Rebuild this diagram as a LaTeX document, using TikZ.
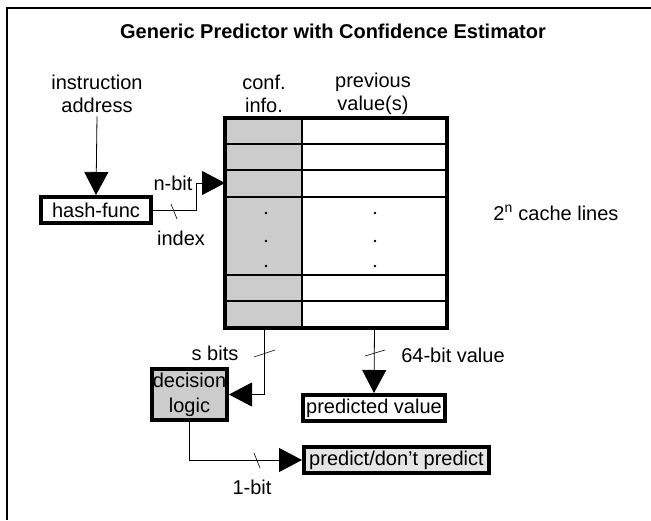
\documentclass[tikz,border=0pt]{standalone}
\usepackage{fontspec}
\setmainfont{Liberation Sans}
\usetikzlibrary{arrows.meta}
\definecolor{confgray}{gray}{0.8}
\definecolor{lightgray}{gray}{0.9}

\begin{document}
\begin{tikzpicture}[x=1pt, y=-1pt,
  font=\fontsize{20}{23}\selectfont,
  fatbox/.style={draw, line width=4pt, inner sep=0pt},
  wire/.style={line width=0.8pt, -{Triangle[length=23pt,width=24pt]}},
  slash/.style={line width=0.6pt}]
\useasboundingbox (0,0) rectangle (651,520);
\draw[line width=1.2pt] (651,8) -- (7,8) -- (7,520);
\node[font=\fontsize{20}{23}\selectfont\bfseries] (title) at (333,31) {Generic Predictor with Confidence Estimator};
% labels above
\node[align=center] (instr) at (97,94) {instruction\\address};
\node[align=center] (conf) at (264,94) {conf.\\info.};
\node[align=center] (prev) at (373,94) {previous\\value(s)};
% cache table
\fill[confgray] (225,118) rectangle (302,328);
\foreach \y in {144,170,197,275,301}
  \draw[line width=2.5pt] (225,\y) -- (447,\y);
\draw[line width=2pt] (302,118) -- (302,328);
\draw[line width=3.5pt] (225,118) rectangle (447,328);
\foreach \y in {213,241,266} {
  \fill (266,\y) circle (1.3);
  \fill (375,\y) circle (1.3);
}
\coordinate (row3) at (225,183);
\coordinate (confbot) at (264,328);
\coordinate (valbot) at (374.5,328);
\node (lines) at (556,213) {2\textsuperscript{n} cache lines};
% boxes
\node[fatbox, fill=white, minimum width=110pt, minimum height=26pt] (hash) at (96,210) {hash-func};
\node[fatbox, fill=confgray, minimum width=75pt, minimum height=51pt, align=center,
  font=\fontsize{20}{25}\selectfont] (dec) at (189.5,394.5) {decision\\logic};
\node[fatbox, fill=white, minimum width=142pt, minimum height=26pt] (pv) at (374,408) {predicted value};
\node[fatbox, fill=lightgray, minimum width=185pt, minimum height=26pt] (pdp) at (396.5,460) {predict/don't predict};
% connectors
\draw[wire] (instr.south) -- (hash.north);
\draw[wire] (hash.east) -- ++(43,0) |- (row3);
\draw[wire] (confbot) |- (dec.east);
\draw[wire] (valbot) -- (pv.north);
\draw[wire] (dec.south) |- (pdp.west);
% bus ticks
\draw[slash] (171,204) -- (177,219);
\draw[slash] (254,357) -- (275,350);
\draw[slash] (365,356) -- (385,350);
\draw[slash] (254,453) -- (260,468);
\node (nbit) at (173,183) {n-bit};
\node (index) at (181,238) {index};
\node (sbits) at (215,353) {s bits};
\node (vbits) at (453,355) {64-bit value};
\node (onebit) at (252,487) {1-bit};
\end{tikzpicture}
\end{document}
